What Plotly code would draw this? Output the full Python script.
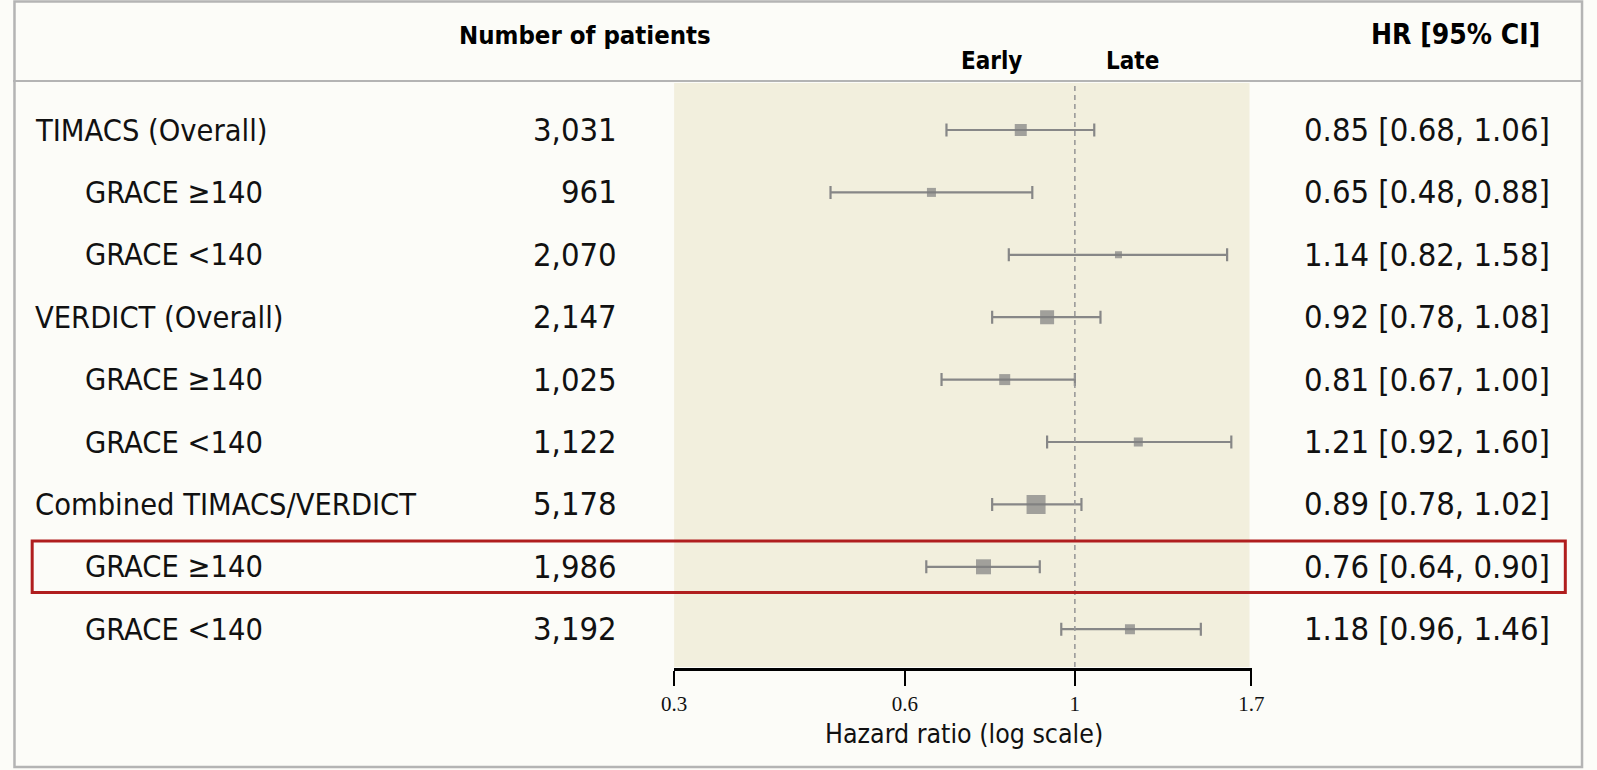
import numpy as np
import plotly.graph_objects as go

labels = ["TIMACS (Overall)", "GRACE ≥140", "GRACE <140",
          "VERDICT (Overall)", "GRACE ≥140", "GRACE <140",
          "Combined TIMACS/VERDICT", "GRACE ≥140", "GRACE <140"]
indent = [0, 1, 1, 0, 1, 1, 0, 1, 1]
patients = ["3,031", "961", "2,070", "2,147", "1,025", "1,122", "5,178", "1,986", "3,192"]
hr = [0.85, 0.65, 1.14, 0.92, 0.81, 1.21, 0.89, 0.76, 1.18]
lo = [0.68, 0.48, 0.82, 0.78, 0.67, 0.92, 0.78, 0.64, 0.96]
hi = [1.06, 0.88, 1.58, 1.08, 1.00, 1.60, 1.02, 0.90, 1.46]
weights = [12, 9, 7, 14, 11, 9, 19, 15, 10]
tick_vals = [0.3, 0.6, 1, 1.7]
tick_text = ["0.3", "0.6", "1", "1.7"]

W, H = 1597, 770
FONT = "DejaVu Sans Condensed, DejaVu Sans, sans-serif"
MARK = "#7f7f7f"
BAR = "#878787"

def px_x(p):
    return p / W

def px_y(p):
    return 1 - p / H

row_y = list(range(len(labels)))
y0_px, dy_px = 130, 62.4
y_range = [(H - y0_px) / dy_px, -y0_px / dy_px]

fig = go.Figure()
fig.add_trace(go.Scatter(
    x=hr, y=row_y, mode="markers",
    marker=dict(symbol="square", size=weights, color=MARK, line=dict(width=0)),
    error_x=dict(type="data", symmetric=False,
                 array=[h - v for h, v in zip(hi, hr)],
                 arrayminus=[v - l for v, l in zip(hr, lo)],
                 color=BAR, thickness=2.2, width=6.5),
    hoverinfo="skip", showlegend=False))

shapes = []
# outer frame
shapes.append(dict(type="rect", xref="paper", yref="paper",
                   x0=px_x(1.5), x1=px_x(1595), y0=px_y(767), y1=px_y(1.5),
                   line=dict(color="#b4b4b4", width=2.5), layer="below"))
# header line
shapes.append(dict(type="line", xref="paper", yref="paper",
                   x0=0, x1=px_x(1595), y0=px_y(81), y1=px_y(81),
                   line=dict(color="#b4b4b4", width=2)))
# shaded band
shapes.append(dict(type="rect", xref="x", yref="paper",
                   x0=0.3, x1=1.69, y0=px_y(667), y1=px_y(83),
                   fillcolor="#f2efdd", line=dict(width=0), layer="below"))
# null line
shapes.append(dict(type="line", xref="x", yref="paper",
                   x0=1, x1=1, y0=px_y(667), y1=px_y(83),
                   line=dict(color="#999999", width=1.6, dash="5px,4px")))
# highlight box
shapes.append(dict(type="rect", xref="paper", yref="paper",
                   x0=px_x(19.5), x1=px_x(1578), y0=px_y(592.5), y1=px_y(541),
                   line=dict(color="#b01e1e", width=3)))

ann = []
for i, (lab, ind, n, h, l, u) in enumerate(zip(labels, indent, patients, hr, lo, hi)):
    ann.append(dict(x=px_x(20.5 + 51 * ind), y=i, xref="paper", yref="y", text=lab,
                    showarrow=False, xanchor="left", yanchor="middle",
                    font=dict(family=FONT, size=30.5, color="#111111")))
    ann.append(dict(x=px_x(616), y=i, xref="paper", yref="y", text=n,
                    showarrow=False, xanchor="right", yanchor="middle",
                    font=dict(family=FONT, size=32.5, color="#111111")))
    ann.append(dict(x=px_x(1564), y=i, xref="paper", yref="y",
                    text=f"{h:.2f} [{l:.2f}, {u:.2f}]",
                    showarrow=False, xanchor="right", yanchor="middle",
                    font=dict(family=FONT, size=32.5, color="#111111")))

ann.append(dict(x=px_x(581), y=px_y(35), xref="paper", yref="paper",
                text="<b>Number of patients</b>", showarrow=False,
                xanchor="center", yanchor="middle",
                font=dict(family=FONT, size=25.5, color="#000000")))
ann.append(dict(x=px_x(1466), y=px_y(35), xref="paper", yref="paper",
                text="<b>HR [95% CI]</b>", showarrow=False,
                xanchor="center", yanchor="middle",
                font=dict(family=FONT, size=28, color="#000000")))
ann.append(dict(x=px_x(995), y=px_y(61), xref="paper", yref="paper",
                text="<b>Early</b>", showarrow=False,
                xanchor="center", yanchor="middle", font=dict(family=FONT, size=24, color="#000")))
ann.append(dict(x=px_x(1138), y=px_y(61), xref="paper", yref="paper",
                text="<b>Late</b>", showarrow=False,
                xanchor="center", yanchor="middle", font=dict(family=FONT, size=24, color="#000")))
ann.append(dict(x=px_x(967), y=px_y(733), xref="paper", yref="paper",
                text="Hazard ratio (log scale)", showarrow=False,
                xanchor="center", yanchor="middle", font=dict(family=FONT, size=26.5, color="#111")))

fig.update_layout(
    width=W, height=H,
    margin=dict(l=0, r=0, t=0, b=0),
    paper_bgcolor="#fcfcf8", plot_bgcolor="rgba(0,0,0,0)",
    shapes=shapes, annotations=ann,
    xaxis=dict(type="log", range=[np.log10(0.3), np.log10(1.7)],
               domain=[px_x(672), px_x(1259)],
               anchor="free", position=px_y(669),
               showline=True, linecolor="#000000", linewidth=2.5,
               ticks="outside", ticklen=15, tickwidth=2, tickcolor="#000000",
               tickvals=tick_vals, ticktext=tick_text,
               tickfont=dict(family="Liberation Serif, serif", size=21, color="#111"),
               showgrid=False, zeroline=False),
    yaxis=dict(range=y_range, domain=[0, 1], visible=False,
               showgrid=False, zeroline=False, fixedrange=True),
)

fig.write_html("out.html", config={"displayModeBar": False},
               post_script="document.body.style.margin='0';document.body.style.overflow='hidden';")
